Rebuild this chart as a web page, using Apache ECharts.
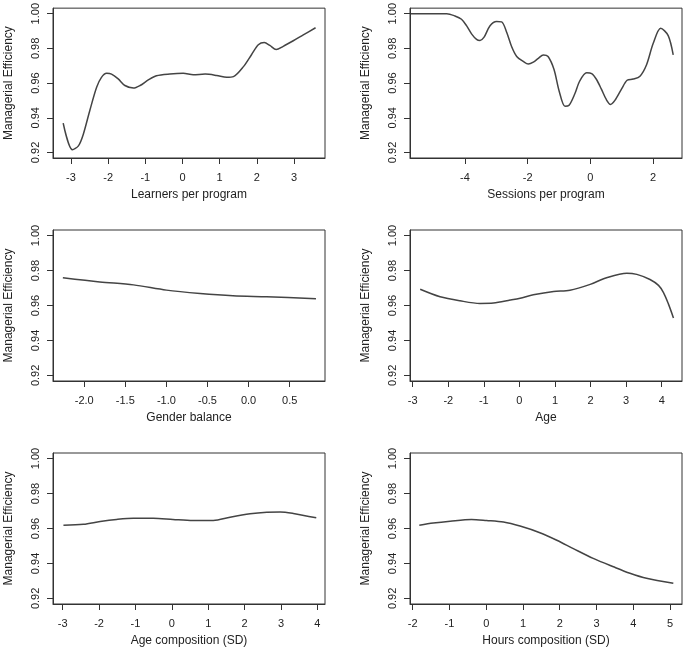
<!DOCTYPE html>
<html>
<head>
<meta charset="utf-8">
<script src="https://cdn.jsdelivr.net/npm/echarts@6/dist/echarts.min.js"></script>
<style>
  html, body { margin: 0; padding: 0; background: #fff; }
  #chart { width: 685px; height: 651px; }
</style>
</head>
<body>
<div id="chart"></div>
<script>
// y ticks shared by all panels
var yTicks = [0.92, 0.94, 0.96, 0.98, 1.00]

// Learners per program
var learnersX = [-3.21, -2.96, -2.80, -2.67, -2.49, -2.31, -2.18, -2.04, -1.91, -1.73, -1.55, -1.32, -1.14, -0.92, -0.70, -0.34, 0.02, 0.29, 0.61, 0.92, 1.19, 1.37, 1.64, 1.86, 2.04, 2.20, 2.35, 2.52, 2.71, 2.98, 3.25, 3.58]
var learnersY = [0.9369, 0.9215, 0.9238, 0.9304, 0.9445, 0.9576, 0.9633, 0.9656, 0.9652, 0.9624, 0.9586, 0.9571, 0.9586, 0.9618, 0.9642, 0.9652, 0.9656, 0.9648, 0.9652, 0.9644, 0.9633, 0.9637, 0.9695, 0.9765, 0.9821, 0.9834, 0.9817, 0.9793, 0.9812, 0.9844, 0.9878, 0.9919]
var learnersTicks = [-3, -2, -1, 0, 1, 2, 3]

// Sessions per program
var sessionsX = [-5.72, -4.58, -4.32, -4.11, -3.95, -3.79, -3.63, -3.52, -3.39, -3.20, -2.99, -2.83, -2.67, -2.51, -2.35, -2.14, -1.98, -1.82, -1.66, -1.50, -1.35, -1.16, -1.00, -0.81, -0.68, -0.50, -0.34, -0.12, 0.04, 0.19, 0.35, 0.51, 0.64, 0.78, 0.99, 1.17, 1.36, 1.58, 1.79, 2.00, 2.24, 2.48, 2.64]
var sessionsY = [1.0000, 1.0000, 0.9987, 0.9968, 0.9931, 0.9884, 0.9852, 0.9846, 0.9865, 0.9931, 0.9955, 0.9953, 0.9893, 0.9809, 0.9753, 0.9725, 0.9710, 0.9721, 0.9743, 0.9762, 0.9753, 0.9678, 0.9556, 0.9466, 0.9472, 0.9537, 0.9612, 0.9659, 0.9655, 0.9622, 0.9565, 0.9504, 0.9477, 0.9500, 0.9565, 0.9616, 0.9623, 0.9640, 0.9706, 0.9828, 0.9916, 0.9874, 0.9762]
var sessionsTicks = [-4, -2, 0, 2]

// Gender balance
var genderX = [-2.26, -1.81, -1.40, -1.00, -0.59, -0.19, 0.22, 0.82]
var genderY = [0.9759, 0.9735, 0.9718, 0.9688, 0.9669, 0.9656, 0.9650, 0.9639]
var genderTicks = [-2.0, -1.5, -1.0, -0.5, 0.0, 0.5]

// Age
var ageX = [-2.79, -2.23, -1.67, -1.11, -0.73, -0.26, 0.02, 0.39, 0.96, 1.42, 1.99, 2.45, 3.02, 3.30, 3.67, 3.91, 4.05, 4.19, 4.33]
var ageY = [0.9693, 0.9650, 0.9627, 0.9612, 0.9614, 0.9631, 0.9642, 0.9661, 0.9680, 0.9687, 0.9721, 0.9759, 0.9785, 0.9778, 0.9749, 0.9715, 0.9674, 0.9608, 0.9529]
var ageTicks = [-3, -2, -1, 0, 1, 2, 3, 4]

// Age composition (SD)
var ageCompX = [-2.98, -2.43, -1.97, -1.52, -1.06, -0.51, 0.03, 0.58, 1.14, 1.60, 2.15, 2.61, 2.98, 3.34, 3.97]
var ageCompY = [0.9618, 0.9624, 0.9640, 0.9652, 0.9659, 0.9659, 0.9652, 0.9646, 0.9646, 0.9665, 0.9684, 0.9693, 0.9695, 0.9686, 0.9661]
var ageCompTicks = [-3, -2, -1, 0, 1, 2, 3, 4]

// Hours composition (SD)
var hoursX = [-1.82, -1.44, -0.98, -0.40, 0.01, 0.47, 0.92, 1.46, 1.92, 2.37, 2.91, 3.46, 3.91, 4.36, 5.09]
var hoursY = [0.9618, 0.9631, 0.9642, 0.9652, 0.9646, 0.9637, 0.9614, 0.9576, 0.9533, 0.9485, 0.9429, 0.9381, 0.9344, 0.9315, 0.9287]
var hoursTicks = [-2, -1, 0, 1, 2, 3, 4, 5]

var panels = [
  { name: 'Learners per program', x: learnersX, y: learnersY, ticks: learnersTicks, min: -3.484, max: 3.834, left: 53, top: 5, height: 153, dec: 0 },
  { name: 'Sessions per program', x: sessionsX, y: sessionsY, ticks: sessionsTicks, min: -5.752, max: 2.92, left: 410, top: 5, height: 153, dec: 0 },
  { name: 'Gender balance', x: genderX, y: genderY, ticks: genderTicks, min: -2.38, max: 0.93, left: 53, top: 230, height: 151, dec: 1 },
  { name: 'Age', x: ageX, y: ageY, ticks: ageTicks, min: -3.076, max: 4.57, left: 410, top: 230, height: 151, dec: 0 },
  { name: 'Age composition (SD)', x: ageCompX, y: ageCompY, ticks: ageCompTicks, min: -3.267, max: 4.21, left: 53, top: 453, height: 151, dec: 0 },
  { name: 'Hours composition (SD)', x: hoursX, y: hoursY, ticks: hoursTicks, min: -2.073, max: 5.326, left: 410, top: 453, height: 151, dec: 0 }
]

var font = 'Liberation Sans'
var textColor = '#222'
var boxColor = '#333'

var grids = []
var xAxes = []
var yAxes = []
var series = []

panels.forEach(function (p, i) {
  grids.push({
    left: p.left,
    top: p.top,
    width: 272,
    height: p.height,
    show: true,
    borderColor: boxColor,
    borderWidth: 1,
    backgroundColor: 'transparent'
  })
  xAxes.push({
    gridIndex: i,
    type: 'value',
    position: 'bottom',
    min: p.min,
    max: p.max,
    name: p.name,
    nameLocation: 'middle',
    nameGap: 31,
    nameTextStyle: { fontFamily: font, fontSize: 12, color: textColor },
    axisLine: { show: true, onZero: false, lineStyle: { color: boxColor, width: 1 } },
    axisTick: { show: true, inside: false, length: 6, lineStyle: { color: boxColor, width: 1 }, customValues: p.ticks },
    axisLabel: {
      fontFamily: font, fontSize: 11, color: textColor, margin: 14,
      customValues: p.ticks,
      formatter: (function (dec) {
        return function (v) {
          return v.toFixed(dec)
        }
      })(p.dec)
    },
    splitLine: { show: false }
  })
  yAxes.push({
    gridIndex: i,
    type: 'value',
    position: 'left',
    min: 0.9168,
    max: 1.0032,
    name: 'Managerial Efficiency',
    nameLocation: 'middle',
    nameRotate: 90,
    nameGap: 38,
    nameTextStyle: { fontFamily: font, fontSize: 12, color: textColor },
    axisLine: { show: true, onZero: false, lineStyle: { color: boxColor, width: 1 } },
    axisTick: { show: true, inside: false, length: 6, lineStyle: { color: boxColor, width: 1 }, customValues: yTicks },
    axisLabel: {
      fontFamily: font, fontSize: 11, color: textColor, margin: 12,
      rotate: 90,
      customValues: yTicks,
      formatter: function (v) { return v.toFixed(2) }
    },
    splitLine: { show: false }
  })
  series.push({
    type: 'line',
    xAxisIndex: i,
    yAxisIndex: i,
    data: p.x.map(function (x, k) { return [x, p.y[k]] }),
    showSymbol: false,
    smooth: 0.3,
    lineStyle: { color: '#444', width: 1.5 },
    silent: true
  })
})

var chart = echarts.init(document.getElementById('chart'), null, { renderer: 'canvas' })
chart.setOption({
  animation: false,
  backgroundColor: '#fff',
  grid: grids,
  xAxis: xAxes,
  yAxis: yAxes,
  series: series
})
</script>
</body>
</html>
